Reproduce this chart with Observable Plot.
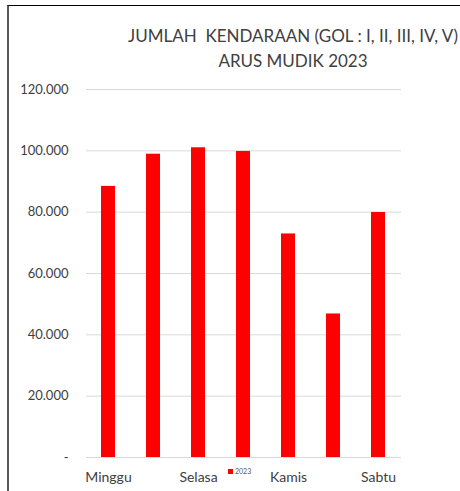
<!DOCTYPE html>
<html>
<head>
<meta charset="utf-8">
<script src="https://cdn.jsdelivr.net/npm/d3@7"></script>
<script src="https://cdn.jsdelivr.net/npm/@observablehq/plot@0.6"></script>
<style>
  html, body { margin: 0; padding: 0; background: #fff; }
  #wrap { position: relative; width: 460px; height: 491px; overflow: hidden; font-family: Lato, "Open Sans", sans-serif; }
  #frame { position: absolute; left: 7px; top: 5px; width: 460px; height: 500px; border-top: 1px solid #000; border-left: 2px solid #595959; box-sizing: border-box; }
  #title { position: absolute; left: 93px; width: 400px; top: 23px; text-align: center; font-size: 17px; line-height: 25px; color: #404040; white-space: pre; }
  #legend { position: absolute; left: 228px; top: 467px; font-size: 7px; color: #595959; display: flex; align-items: center; }
  #legend span.sw { display: inline-block; width: 5px; height: 5px; background: #ff0000; margin-right: 2px; }
  #chart { position: absolute; left: 0; top: 0; }
</style>
</head>
<body>
<div id="wrap">
  <div id="chart"></div>
  <div id="frame"></div>
  <div id="title"></div>
  <div id="legend"></div>
</div>
<script>
const titleLines = ["JUMLAH  KENDARAAN (GOL : I, II, III, IV, V)", "ARUS MUDIK 2023"];
const seriesName = "2023";
const days = ["Minggu", "Senin", "Selasa", "Rabu", "Kamis", "Jumat", "Sabtu"];
const vehicles = [88400, 98900, 101000, 99800, 72900, 46800, 79900];
const yTicks = [0, 20000, 40000, 60000, 80000, 100000, 120000];
const shownDayLabels = ["Minggu", "Selasa", "Kamis", "Sabtu"];

const data = days.map((d, i) => ({day: d, value: vehicles[i]}));
const fmt = v => v === 0 ? "-" : d3.format(",")(v).replace(/,/g, ".");

const chart = Plot.plot({
  width: 460,
  height: 491,
  marginTop: 89,
  marginBottom: 34,
  marginLeft: 86,
  marginRight: 59,
  style: {fontFamily: "Lato, 'Open Sans', sans-serif", color: "#404040", background: "transparent"},
  x: {domain: days, paddingInner: 0.68, paddingOuter: 0.34, label: null},
  y: {domain: [0, 120000], label: null},
  marks: [
    Plot.ruleY(yTicks, {stroke: "#d9d9d9", strokeWidth: 1}),
    Plot.barY(data, {x: "day", y: "value", fill: "#ff0000"}),
    Plot.axisY({ticks: yTicks, tickFormat: fmt, tickSize: 0, tickPadding: 18, fontSize: 13, fill: "#404040"}),
    Plot.axisX({tickSize: 0, tickPadding: 15, fontSize: 14, fill: "#404040",
      tickFormat: d => shownDayLabels.includes(d) ? d : ""})
  ]
});
document.getElementById("chart").appendChild(chart);
document.getElementById("title").textContent = titleLines.join("\n");
const lg = document.getElementById("legend");
lg.innerHTML = '<span class="sw"></span><span></span>';
lg.lastChild.textContent = seriesName;
</script>
</body>
</html>
